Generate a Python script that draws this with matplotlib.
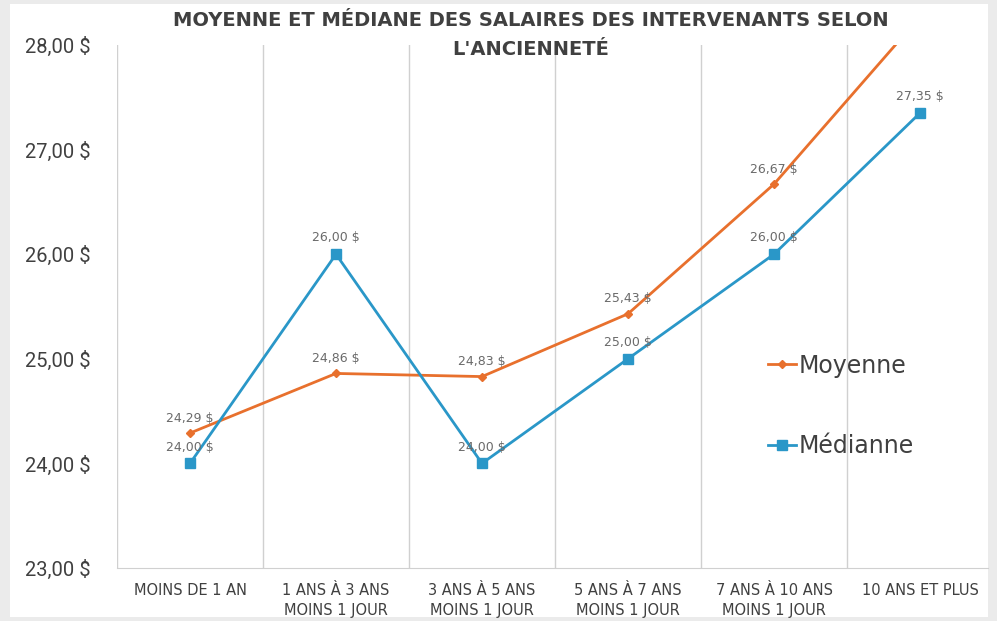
import numpy as np
import matplotlib.pyplot as plt
from matplotlib.patches import Rectangle

categories = [
    "MOINS DE 1 AN",
    "1 ANS À 3 ANS\nMOINS 1 JOUR",
    "3 ANS À 5 ANS\nMOINS 1 JOUR",
    "5 ANS À 7 ANS\nMOINS 1 JOUR",
    "7 ANS À 10 ANS\nMOINS 1 JOUR",
    "10 ANS ET PLUS",
]
moyenne = [24.29, 24.86, 24.83, 25.43, 26.67, 28.27]
mediane = [24.00, 26.00, 24.00, 25.00, 26.00, 27.35]
y_ticks = [23, 24, 25, 26, 27, 28]

ORANGE = "#E8702D"
BLUE = "#2A97C8"
TEXT = "#404040"
LABEL = "#6a6a6a"
NARROW = ["Roboto", "DejaVu Sans"]


def fr_money(v):
    return f"{v:.2f}".replace(".", ",") + " $"


fig = plt.figure(figsize=(9.97, 6.21), dpi=100, facecolor="#ebebeb")
# white chart panel
fig.patches.append(
    Rectangle((10 / 997, 4 / 621), 978 / 997, 613 / 621,
              transform=fig.transFigure, facecolor="white", edgecolor="none", zorder=-10)
)

ax = fig.add_axes([117 / 997, 53 / 621, 871 / 997, 523 / 621])
ax.set_facecolor("none")
ax.set_zorder(1)

x = np.arange(len(categories))
ax.plot(x, moyenne, color=ORANGE, lw=2, marker="D", ms=4, label="Moyenne", zorder=3)
ax.plot(x, mediane, color=BLUE, lw=2, marker="s", ms=7, label="Médianne", zorder=3)

ax.set_xlim(-0.5, 5.5 - 5 / 146)
ax.set_ylim(23, 28)

# data labels
for xi, v in zip(x, moyenne):
    if v <= 28:
        ax.annotate(fr_money(v), (xi, v), xytext=(0, 6), textcoords="offset points",
                    ha="center", va="bottom", fontsize=9, color=LABEL)
for xi, v in zip(x, mediane):
    ax.annotate(fr_money(v), (xi, v), xytext=(0, 7), textcoords="offset points",
                ha="center", va="bottom", fontsize=9, color=LABEL)

# vertical gridlines between categories
for b in np.arange(-0.5, 5.5, 1.0):
    ax.axvline(b, color="#d0d0d0", lw=1, zorder=1)

for s in ["top", "right", "left"]:
    ax.spines[s].set_visible(False)
ax.spines["bottom"].set_color("#d0d0d0")

ax.set_yticks(y_ticks)
ax.set_yticklabels([fr_money(v) for v in y_ticks], family=NARROW, fontsize=14.5, color=TEXT)
ax.set_xticks(x)
ax.set_xticklabels(categories, fontsize=10.5, color=TEXT, linespacing=1.4)
ax.tick_params(axis="y", length=0, pad=19)
ax.tick_params(axis="x", length=0, pad=11)

fig.text(0.532, 0.982, "MOYENNE ET MÉDIANE DES SALAIRES DES INTERVENANTS SELON\nL'ANCIENNETÉ",
         ha="center", va="top", fontsize=14, fontweight="bold", color=TEXT,
         linespacing=1.65)

leg = ax.legend(loc="upper left", bbox_to_anchor=(0.747, 0.41), frameon=False,
                fontsize=17, handlelength=1.2, handletextpad=0.1, labelspacing=2.4,
                borderpad=0, borderaxespad=0, labelcolor=TEXT)

fig.savefig("out.png", dpi=100, facecolor=fig.get_facecolor())
